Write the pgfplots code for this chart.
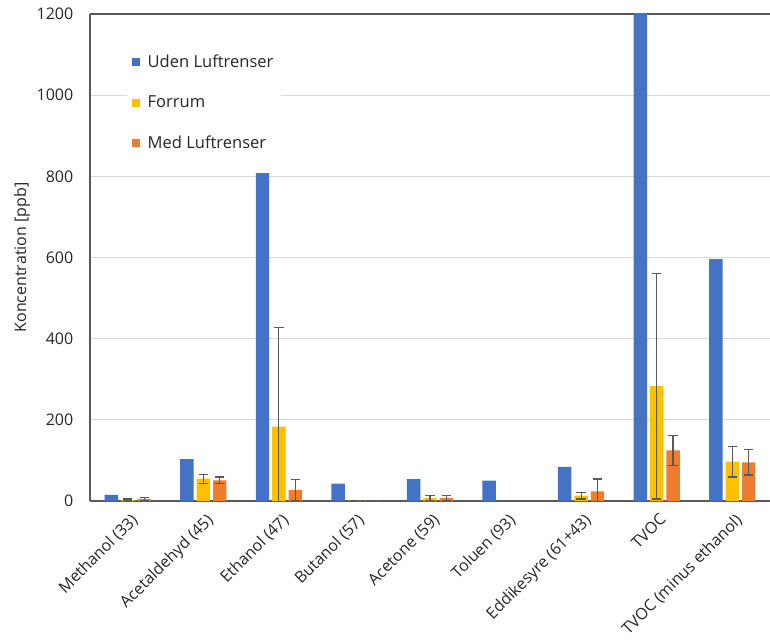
\documentclass[border=0pt]{standalone}
\usepackage{fontspec}
\setmainfont{Open Sans}
\usepackage{pgfplots}
\pgfplotsset{compat=1.18}
\usepackage{pgfplotstable}

\definecolor{cblue}{HTML}{4472C4}
\definecolor{cyellow}{HTML}{FFC000}
\definecolor{corange}{HTML}{ED7D31}
\definecolor{errgray}{HTML}{595959}
\definecolor{gridgray}{HTML}{D9D9D9}
\definecolor{axgray}{HTML}{595959}
\definecolor{txtgray}{HTML}{262626}

% x = category index, y = mean concentration [ppb], e = error
\pgfplotstableread{
x y
0 15
1 103
2 808
3 43
4 54
5 50
6 84
7 1450
8 596
}\uden
\pgfplotstableread{
x y e
0 3 2
1 55 11
2 183 244
3 1 1
4 8 6
6 13 8
7 283 278
8 97 38
}\forrum
\pgfplotstableread{
x y e
0 5 4
1 51 8
2 27 26
3 1 1
4 7 6
6 24 30
7 125 37
8 95 31
}\med

\begin{document}
\begin{tikzpicture}
\begin{axis}[
  scale only axis,
  width=510pt, height=365.25pt,
  ybar, bar width=0.178,
  xmin=-0.5, xmax=8.5,
  ymin=0, ymax=1200,
  ytick={0,200,...,1200},
  xtick={0,...,8},
  xticklabels={Methanol (33),Acetaldehyd (45),Ethanol (47),Butanol (57),Acetone (59),Toluen (93),Eddikesyre (61+43),TVOC,TVOC (minus ethanol)},
  xticklabel style={xshift=1.5pt, yshift=-7pt, rotate=45, anchor=north east, inner sep=1pt, font=\fontsize{12}{14}\selectfont, text=txtgray},
  yticklabel style={font=\fontsize{12}{14}\selectfont, text=txtgray, xshift=-9pt},
  /pgf/number format/assume math mode=true,
  /pgf/number format/1000 sep={},
  major tick length=0pt,
  axis x line*=box,
  axis y line*=left,
  axis line style={axgray, line width=0.8pt},
  ymajorgrids,
  major grid style={gridgray, line width=0.6pt},
  ylabel={Koncentration [ppb]},
  ylabel style={at={(axis description cs:-0.1,0.5)}, anchor=center, font=\fontsize{12}{14}\selectfont, text=txtgray},
  legend image code/.code={\fill[#1] (0pt,-3pt) rectangle (6pt,3pt);},
  legend style={at={(0.054,0.930)}, anchor=north west, draw=none, fill=white,
    font=\fontsize{12.4}{14}\selectfont, text=txtgray, row sep=15.5pt, column sep=3.5pt,
    inner xsep=4pt, inner ysep=3pt},
  legend cell align=left,
  error bars/y dir=both,
  error bars/y explicit,
  error bars/error bar style={errgray, line width=0.9pt},
  error bars/error mark options={rotate=90, mark size=3.5pt, errgray, line width=0.9pt},
]
\addplot[fill=cblue, draw=none, bar shift=-0.217, error bars/y dir=none] table[x=x, y=y] {\uden};
\addplot[fill=cyellow, draw=none, bar shift=0] table[x=x, y=y, y error=e] {\forrum};
\addplot[fill=corange, draw=none, bar shift=0.217] table[x=x, y=y, y error=e] {\med};
\legend{Uden Luftrenser, Forrum, Med Luftrenser}
\end{axis}
\pgfresetboundingbox
\path[use as bounding box] (-67.5pt,-105.75pt) rectangle (510pt,375.75pt);
\end{tikzpicture}
\end{document}
